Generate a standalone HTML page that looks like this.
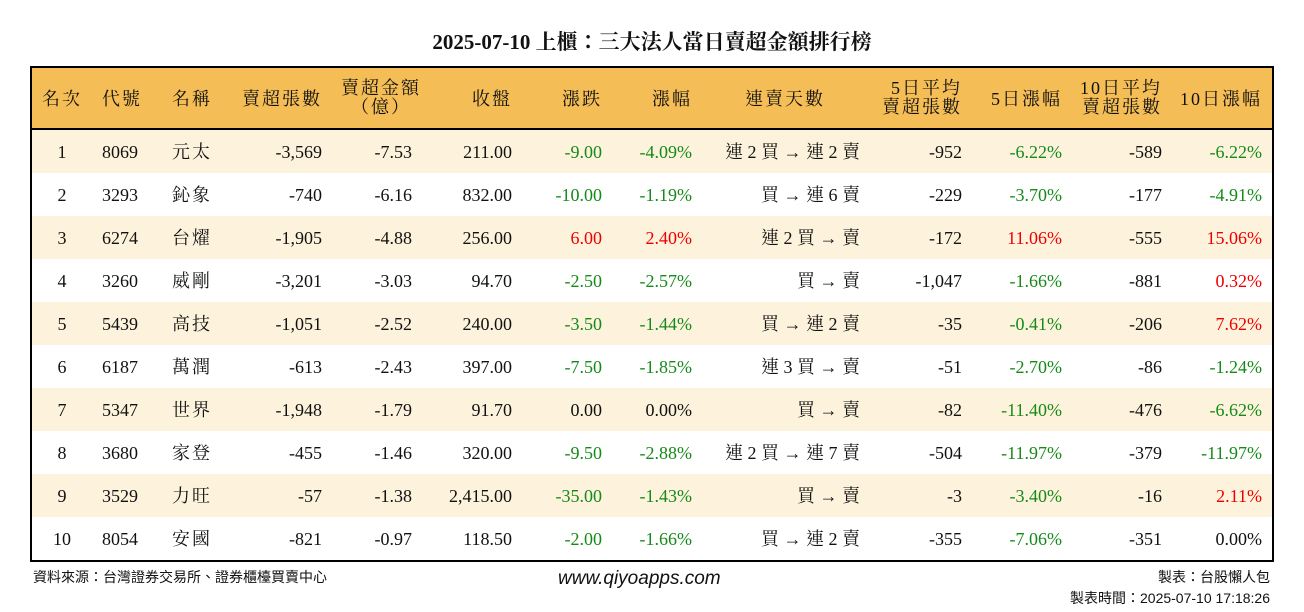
<!DOCTYPE html>
<html><head><meta charset="utf-8"><style>
body{margin:0;width:1304px;height:612px;background:#fff;position:relative;overflow:hidden;font-family:"Liberation Serif","Noto Serif CJK TC","Noto Serif CJK SC",serif;color:#111}
.a{position:absolute;white-space:nowrap;font-size:18px;line-height:20px}
.h{letter-spacing:2px}
.g{color:#158a18}.r{color:#e00}
</style></head><body>
<div class="a" style="left:0;width:1304px;top:30px;text-align:center;font-size:21px;line-height:24px;font-weight:bold">2025-07-10 上櫃：三大法人當日賣超金額排行榜</div>
<div id="tbl" style="position:absolute;left:30px;top:66px;width:1240px;height:492px;border:2px solid #000"></div>
<div class="a" style="left:33px;top:567px;font-size:14px;font-family:'Liberation Sans','Noto Sans CJK TC',sans-serif">資料來源：台灣證券交易所、證券櫃檯買賣中心</div>
<div class="a" style="left:558px;top:569px;font-size:19px;font-style:italic;font-family:'Liberation Sans',sans-serif">www.qiyoapps.com</div>
<div class="a" style="right:34px;top:567px;font-size:14px;font-family:'Liberation Sans','Noto Sans CJK TC',sans-serif">製表：台股懶人包</div>
<div class="a" style="right:34px;top:588px;font-size:14px;font-family:'Liberation Sans','Noto Sans CJK TC',sans-serif">製表時間：2025-07-10 17:18:26</div>
<script>
const codes=["8069","3293","6274","3260","5439","6187","5347","3680","3529","8054"];
const names=["元太","鈊象","台燿","威剛","高技","萬潤","世界","家登","力旺","安國"];
const vols=["-3,569","-740","-1,905","-3,201","-1,051","-613","-1,948","-455","-57","-821"];
const amts=["-7.53","-6.16","-4.88","-3.03","-2.52","-2.43","-1.79","-1.46","-1.38","-0.97"];
const closes=["211.00","832.00","256.00","94.70","240.00","397.00","91.70","320.00","2,415.00","118.50"];
const chgs=["-9.00","-10.00","6.00","-2.50","-3.50","-7.50","0.00","-9.50","-35.00","-2.00"];
const pcts=["-4.09%","-1.19%","2.40%","-2.57%","-1.44%","-1.85%","0.00%","-2.88%","-1.43%","-1.66%"];
const days=["連 2 買 → 連 2 賣","買 → 連 6 賣","連 2 買 → 賣","買 → 賣","買 → 連 2 賣","連 3 買 → 賣","買 → 賣","連 2 買 → 連 7 賣","買 → 賣","買 → 連 2 賣"];
const avg5=["-952","-229","-172","-1,047","-35","-51","-82","-504","-3","-355"];
const p5=["-6.22%","-3.70%","11.06%","-1.66%","-0.41%","-2.70%","-11.40%","-11.97%","-3.40%","-7.06%"];
const avg10=["-589","-177","-555","-881","-206","-86","-476","-379","-16","-351"];
const p10=["-6.22%","-4.91%","15.06%","0.32%","7.62%","-1.24%","-6.62%","-11.97%","2.11%","0.00%"];
const T=document.getElementById('tbl');
function txt(s,x,y,al,cls,name){const d=document.createElement('div');d.className='a '+(cls||'');d.textContent=s;


let X=x-32;if(al==='c'){d.style.left=(X-150)+'px';d.style.width='300px';d.style.textAlign='center';}
else if(al==='r'){d.style.right=(1240-X)+'px';}else d.style.left=X+'px';
d.style.top=(y-66-10)+'px';T.appendChild(d);return d;}
const hb=document.createElement('div');hb.style.cssText='position:absolute;left:0;top:0;width:1240px;height:60px;background:#F4BD55;border-bottom:2px solid #000';


T.appendChild(hb);
const H=[["名次",62,'c'],["代號",102,'l'],["名稱",172,'l'],["賣超張數",322,'r'],["收盤",512,'r'],["漲跌",602,'r'],["漲幅",692,'r'],["連賣天數",785,'c'],["5日漲幅",1062,'r'],["10日漲幅",1262,'r']];
H.forEach(h=>txt(h[0],h[1],97,h[2],'h','header-'+h[0]));
txt("賣超金額",381,86,'c','h','header-amount');txt("（億）",381,105,'c','h','header-amount-unit');
txt("5日平均",962,86,'r','h','header-avg5');txt("賣超張數",962,105,'r','h','header-avg5-sub');
txt("10日平均",1162,86,'r','h','header-avg10');txt("賣超張數",1162,105,'r','h','header-avg10-sub');
function col(s){return s.startsWith('-')?'g':(s.replace(/[0.%]/g,'')===''?'':'r');}
for(let i=0;i<codes.length;i++){
 const top=130+43*i;
 const bg=document.createElement('div');bg.style.cssText=`position:absolute;left:0;width:1240px;top:${top-66-2}px;height:43px;background:${i%2===0?'#FDF3DC':'#fff'}`;
 
 
 T.appendChild(bg);
 const y=top+20;
 txt(String(i+1),62,y,'c','','rank');
 txt(codes[i],102,y,'l','','code');
 txt(names[i],172,y,'l','h','name');
 txt(vols[i],322,y,'r','','sell-volume');
 txt(amts[i],412,y,'r','','sell-amount');
 txt(closes[i],512,y,'r','','close');
 txt(chgs[i],602,y,'r',col(chgs[i]),'change');
 txt(pcts[i],692,y,'r',col(pcts[i]),'change-pct');
 txt(days[i],860,y,'r','','streak');
 txt(avg5[i],962,y,'r','','avg5-volume');
 txt(p5[i],1062,y,'r',col(p5[i]),'pct-5d');
 txt(avg10[i],1162,y,'r','','avg10-volume');
 txt(p10[i],1262,y,'r',col(p10[i]),'pct-10d');
}
</script>
</body></html>
